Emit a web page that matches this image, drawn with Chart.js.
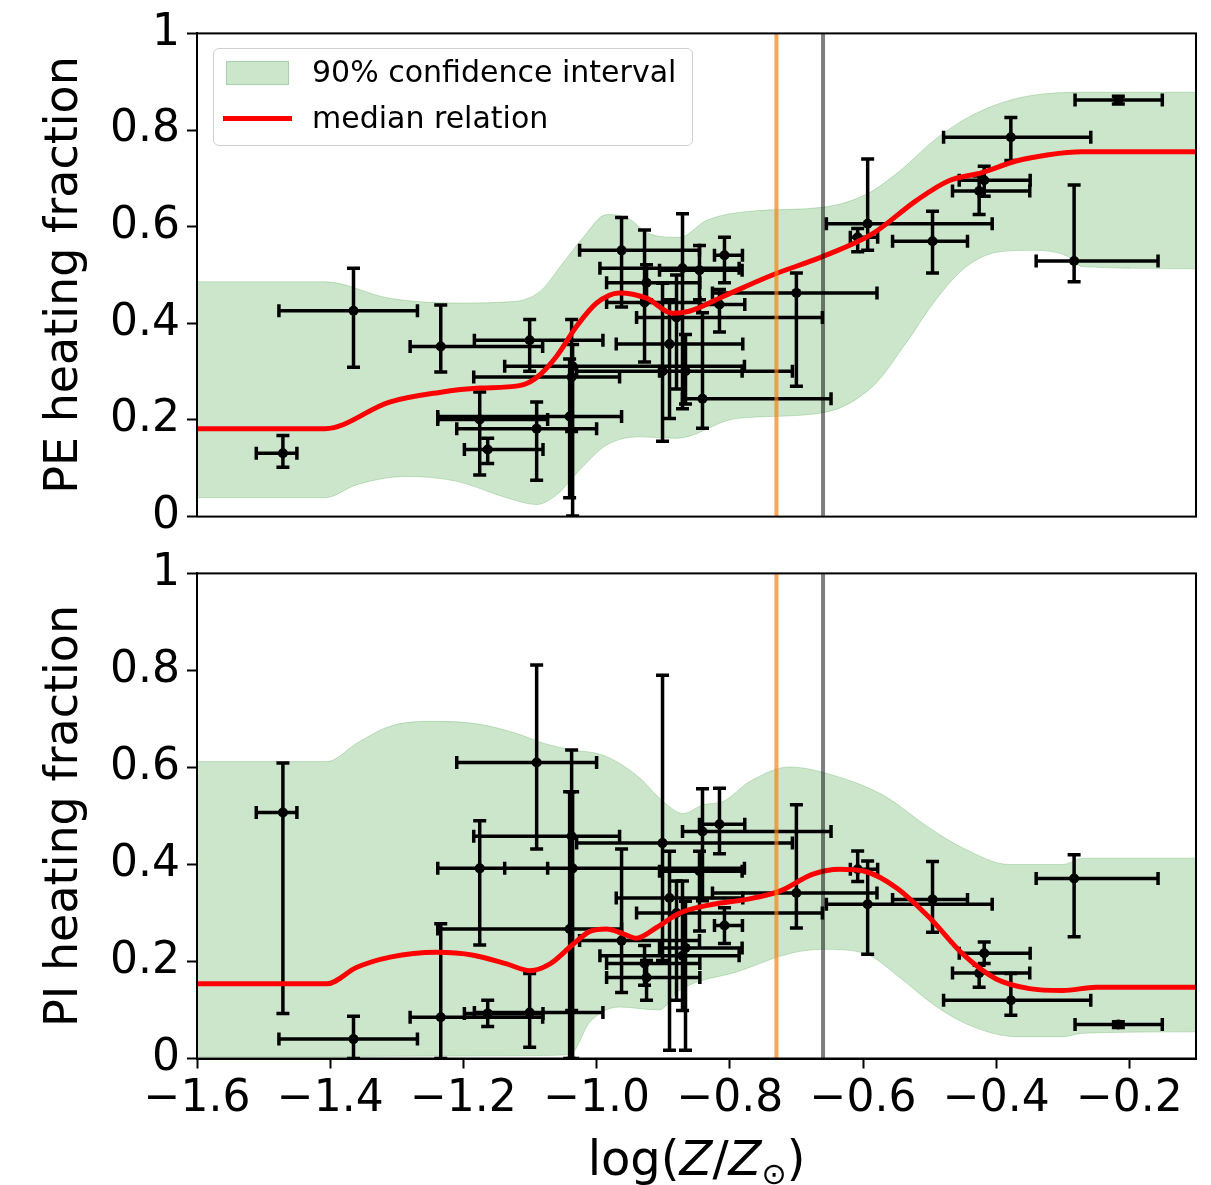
<!DOCTYPE html>
<html>
<head>
<meta charset="utf-8">
<script src="https://cdn.jsdelivr.net/npm/chart.js@4.4.1/dist/chart.umd.min.js"></script>
<style>
html,body{margin:0;padding:0;background:#fff;}
#wrap{position:relative;width:1211px;height:1185px;overflow:hidden;font-family:"DejaVu Sans",sans-serif;}
#c1{position:absolute;left:0;top:0;}
#c2{position:absolute;left:0;top:540px;}
#legend{position:absolute;left:213px;top:48px;width:480px;height:98px;border:1.5px solid #d0d0d0;border-radius:6px;background:rgba(255,255,255,0.85);box-sizing:border-box;}
#legend .patch{position:absolute;left:12px;top:12px;width:63px;height:24px;background:rgb(204,230,204);border:1px solid rgb(170,210,170);box-sizing:border-box;}
#legend .line{position:absolute;left:9px;top:67px;width:69px;height:5px;background:#ff0000;}
#legend .t{position:absolute;left:98px;font-size:30px;line-height:30px;color:#000;white-space:nowrap;}
#xtitle{position:absolute;left:0;width:1393px;text-align:center;top:1134px;font-size:48px;line-height:48px;color:#000;white-space:nowrap;}
#xtitle i{font-style:italic;}
#xtitle sub{font-size:30px;vertical-align:-9px;line-height:0;}
</style>
</head>
<body>
<div id="wrap">
<canvas id="c1" width="1211" height="550"></canvas>
<canvas id="c2" width="1211" height="645"></canvas>
<div id="legend">
  <div class="patch"></div><div class="t" style="top:8px;">90% confidence interval</div>
  <div class="line"></div><div class="t" style="top:54px;">median relation</div>
</div>
<div id="xtitle">log(<i>Z</i>/<i>Z</i><sub>⊙</sub>)</div>
</div>
<script>
// ---------------- data ----------------
const logZ      = [-1.471,-1.365,-1.234,-1.1005,-1.1755,-1.090,-1.1635,-1.0375,-1.036,-1.0405,-0.9625,-0.901,-0.928,-0.925,-0.841,-0.8155,-0.808,-0.8455,-0.880,-0.8905,-0.8665,-0.700,-0.871,-0.2166,-0.378,-0.418,-0.4256,-0.4956,-0.283,-0.593,-0.608];
const logZErrLo = [0.040,0.112,0.046,0.083,0.063,0.120,0.035,0.147,0.102,0.198,0.063,0.129,0.057,0.060,0.030,0.030,0.015,0.060,0.060,0.080,0.039,0.126,0.124,0.065,0.101,0.0375,0.040,0.060,0.057,0.062,0.011];
const logZErrHi = [0.021,0.096,0.153,0.110,0.102,0.090,0.083,0.072,0.258,0.078,0.117,0.195,0.083,0.080,0.193,0.038,0.027,0.064,0.219,0.110,0.085,0.121,0.085,0.066,0.120,0.069,0.076,0.0525,0.126,0.187,0.030];

const peFrac    = [0.131,0.426,0.352,0.365,0.201,0.182,0.139,0.289,0.311,0.207,0.551,0.301,0.443,0.484,0.244,0.439,0.541,0.510,0.412,0.357,0.301,0.463,0.514,0.862,0.785,0.696,0.674,0.570,0.529,0.606,0.578];
const peErrLo   = [0.029,0.117,0.053,0.064,0.115,0.107,0.029,0.113,0.310,0.168,0.117,0.145,0.123,0.035,0.061,0.057,0.057,0.061,0.148,0.154,0.068,0.193,0.291,0.008,0.048,0.033,0.049,0.066,0.043,0.055,0.030];
const peErrHi   = [0.037,0.088,0.086,0.043,0.057,0.055,0.023,0.119,0.045,0.119,0.068,0.182,0.150,0.037,0.178,0.031,0.037,0.051,0.088,0.092,0.076,0.041,0.113,0.008,0.041,0.029,0.031,0.062,0.157,0.134,0.018];

const piFrac    = [0.507,0.040,0.085,0.095,0.392,0.610,0.093,0.458,0.392,0.267,0.243,0.444,0.196,0.167,0.468,0.483,0.274,0.386,0.300,0.331,0.228,0.341,0.212,0.070,0.120,0.217,0.176,0.328,0.371,0.318,0.390];
const piErrLo   = [0.414,0.040,0.085,0.072,0.158,0.178,0.027,0.359,0.392,0.267,0.107,0.242,0.045,0.047,0.143,0.061,0.037,0.123,0.180,0.314,0.211,0.072,0.113,0.006,0.031,0.021,0.029,0.068,0.120,0.103,0.025];
const piErrHi   = [0.102,0.047,0.193,0.080,0.098,0.201,0.027,0.178,0.158,0.283,0.189,0.346,0.037,0.035,0.088,0.074,0.037,0.041,0.066,0.096,0.096,0.182,0.154,0.006,0.055,0.023,0.016,0.078,0.049,0.089,0.038];

// median relations and 90% confidence bands
const peMedX  = [-1.6,-1.408,-1.311,-1.236,-1.176,-1.116,-1.090,-1.060,-1.030,-1.000,-0.966,-0.925,-0.886,-0.861,-0.811,-0.736,-0.661,-0.586,-0.520,-0.471,-0.421,-0.370,-0.321,-0.271,-0.1];
const peMedY  = [0.182,0.182,0.237,0.257,0.266,0.271,0.288,0.332,0.394,0.442,0.463,0.452,0.421,0.425,0.455,0.500,0.538,0.585,0.654,0.695,0.712,0.736,0.749,0.755,0.755];
const peHiX   = [-1.6,-1.408,-1.311,-1.21,-1.125,-1.085,-1.051,-1.020,-0.985,-0.955,-0.920,-0.875,-0.835,-0.760,-0.661,-0.595,-0.545,-0.495,-0.445,-0.395,-0.345,-0.270,-0.1];
const peHiY   = [0.486,0.486,0.452,0.442,0.445,0.466,0.524,0.578,0.625,0.619,0.585,0.578,0.613,0.633,0.640,0.667,0.715,0.777,0.824,0.855,0.872,0.878,0.878];
const peLoX   = [-1.6,-1.408,-1.36,-1.285,-1.21,-1.135,-1.09,-1.06,-1.023,-0.985,-0.935,-0.88,-0.79,-0.66,-0.585,-0.535,-0.49,-0.445,-0.395,-0.345,-0.295,-0.27,-0.1];
const peLoY   = [0.039,0.039,0.066,0.083,0.073,0.039,0.025,0.045,0.100,0.148,0.165,0.162,0.203,0.215,0.270,0.360,0.450,0.517,0.548,0.551,0.540,0.517,0.513];

const piMedX  = [-1.6,-1.405,-1.36,-1.31,-1.24,-1.185,-1.135,-1.10,-1.07,-1.035,-1.01,-0.985,-0.96,-0.94,-0.91,-0.875,-0.825,-0.775,-0.725,-0.675,-0.635,-0.595,-0.55,-0.50,-0.45,-0.40,-0.35,-0.30,-0.25,-0.1];
const piMedY  = [0.154,0.154,0.188,0.209,0.219,0.213,0.195,0.181,0.195,0.236,0.262,0.267,0.257,0.248,0.270,0.300,0.318,0.328,0.345,0.380,0.390,0.385,0.352,0.290,0.215,0.164,0.144,0.140,0.147,0.147];
const piHiX   = [-1.6,-1.405,-1.36,-1.31,-1.25,-1.18,-1.12,-1.08,-1.04,-0.99,-0.94,-0.90,-0.87,-0.84,-0.81,-0.77,-0.71,-0.645,-0.57,-0.50,-0.45,-0.38,-0.30,-0.27,-0.1];
const piHiY   = [0.612,0.612,0.650,0.685,0.695,0.690,0.670,0.650,0.637,0.625,0.584,0.530,0.505,0.523,0.530,0.571,0.601,0.584,0.543,0.475,0.434,0.400,0.400,0.413,0.413];
const piLoX   = [-1.6,-1.40,-1.10,-1.04,-1.01,-0.966,-0.906,-0.876,-0.786,-0.711,-0.66,-0.596,-0.546,-0.496,-0.446,-0.37,-0.30,-0.27,-0.1];
const piLoY   = [0.004,0.004,0.006,0.008,0.075,0.106,0.100,0.140,0.180,0.216,0.225,0.216,0.168,0.113,0.072,0.045,0.045,0.052,0.055];

const refLinesX = [-0.73, -0.66];
const yTicks = [0, 0.2, 0.4, 0.6, 0.8, 1];
const xTicks = [-1.6, -1.4, -1.2, -1.0, -0.8, -0.6, -0.4, -0.2];

// ---------------- helpers ----------------
const FONT = 'DejaVu Sans';
function pts(xs, ys){ return xs.map((x,i)=>({x:x, y:ys[i]})); }
function hSegs(ys){
  const out=[];
  logZ.forEach((x,i)=>{ out.push({x:x-logZErrLo[i], y:ys[i]}, {x:x+logZErrHi[i], y:ys[i]}, {x:null, y:null}); });
  return out;
}
function vSegs(ys, lo, hi){
  const out=[];
  logZ.forEach((x,i)=>{ out.push({x:x, y:ys[i]-lo[i]}, {x:x, y:ys[i]+hi[i]}, {x:null, y:null}); });
  return out;
}
const frame = {
  id:'frame',
  afterDatasetsDraw(chart){
    const a = chart.chartArea, ctx = chart.ctx;
    ctx.save(); ctx.strokeStyle='#000'; ctx.lineWidth=2;
    ctx.strokeRect(a.left, a.top, a.right-a.left, a.bottom-a.top);
    ctx.restore();
  }
};
function datasets(ys, lo, hi, medX, medY, bandLoX, bandLoY, bandHiX, bandHiY){
  const ds = [];
  ds.push({data: pts(bandLoX, bandLoY), showLine:true, pointRadius:0, borderWidth:1,
           borderColor:'rgba(0,128,0,0.2)', cubicInterpolationMode:'monotone', fill:false, order:10});
  ds.push({data: pts(bandHiX, bandHiY), showLine:true, pointRadius:0, borderWidth:1,
           borderColor:'rgba(0,128,0,0.2)', backgroundColor:'rgba(0,128,0,0.2)',
           cubicInterpolationMode:'monotone', fill:'-1', order:9});
  ds.push({data: hSegs(ys), showLine:true, spanGaps:false, borderColor:'#000', borderWidth:3.5,
           pointStyle:'line', pointRotation:90, pointRadius:6.5, pointBorderWidth:3.5,
           pointBorderColor:'#000', order:5});
  ds.push({data: vSegs(ys, lo, hi), showLine:true, spanGaps:false, borderColor:'#000', borderWidth:3.5,
           pointStyle:'line', pointRotation:0, pointRadius:6.5, pointBorderWidth:3.5,
           pointBorderColor:'#000', order:4});
  ds.push({data: pts(logZ, ys), showLine:false, pointRadius:5, pointBackgroundColor:'#000',
           pointBorderColor:'#000', pointBorderWidth:0, order:3});
  ds.push({data: pts(medX, medY), showLine:true, pointRadius:0, borderColor:'#ff0000', borderWidth:5,
           cubicInterpolationMode:'monotone', fill:false, order:2});
  ds.push({data: [{x:refLinesX[0], y:0}, {x:refLinesX[0], y:1}], showLine:true, pointRadius:0,
           borderColor:'rgba(255,127,14,0.7)', borderWidth:4, order:1});
  ds.push({data: [{x:refLinesX[1], y:0}, {x:refLinesX[1], y:1}], showLine:true, pointRadius:0,
           borderColor:'rgba(0,0,0,0.5)', borderWidth:4, order:0});
  return ds;
}
function fmtY(v){ if (Math.abs(v) < 1e-9) return '0'; if (Math.abs(v-1) < 1e-9) return '1'; return v.toFixed(1); }
function fmtX(v){ const s = Math.abs(v).toFixed(1); return (v < -1e-9 ? '\u2212' : '') + s; }
function yScale(title){
  return {
    type:'linear', min:0, max:1,
    afterFit: s => { s.width = 197; },
    afterBuildTicks: s => { s.ticks = yTicks.map(v=>({value:v})); },
    ticks:{ font:{family:FONT, size:44}, color:'#000', padding:7, callback: v => fmtY(v) },
    grid:{ display:true, drawOnChartArea:false, drawTicks:true, tickLength:10, tickWidth:2, tickColor:'#000', color:'#000' },
    border:{ display:true, color:'#000', width:2 },
    title:{ display:true, text:title, font:{family:FONT, size:46}, color:'#000', padding:{top:37, bottom:0} }
  };
}
const base = {
  responsive:false, animation:false, devicePixelRatio:1, events:[],
  plugins:{ legend:{display:false}, tooltip:{enabled:false} }
};

// ---------------- top panel (PE) ----------------
new Chart(document.getElementById('c1'), {
  type:'scatter',
  data:{ datasets: datasets(peFrac, peErrLo, peErrHi, peMedX, peMedY, peLoX, peLoY, peHiX, peHiY) },
  options: Object.assign({}, base, {
    layout:{ padding:{left:0, right:15, top:31, bottom:31} },
    scales:{
      x:{ type:'linear', min:-1.6, max:-0.1, display:false },
      y: yScale('PE heating fraction')
    }
  }),
  plugins:[frame]
});

// ---------------- bottom panel (PI) ----------------
new Chart(document.getElementById('c2'), {
  type:'scatter',
  data:{ datasets: datasets(piFrac, piErrLo, piErrHi, piMedX, piMedY, piLoX, piLoY, piHiX, piHiY) },
  options: Object.assign({}, base, {
    layout:{ padding:{left:0, right:15, top:30, bottom:0} },
    scales:{
      x:{ type:'linear', min:-1.6, max:-0.1,
          afterFit: s => { s.height = 126.5; },
          afterBuildTicks: s => { s.ticks = xTicks.map(v=>({value:v})); },
          ticks:{ font:{family:FONT, size:44}, color:'#000', padding:5, maxRotation:0, autoSkip:false, callback: v => fmtX(v) },
          grid:{ display:true, drawOnChartArea:false, drawTicks:true, tickLength:10, tickWidth:2, tickColor:'#000', color:'#000' },
          border:{ display:true, color:'#000', width:2 }
      },
      y: yScale('PI heating fraction')
    }
  }),
  plugins:[frame]
});
</script>
</body>
</html>
